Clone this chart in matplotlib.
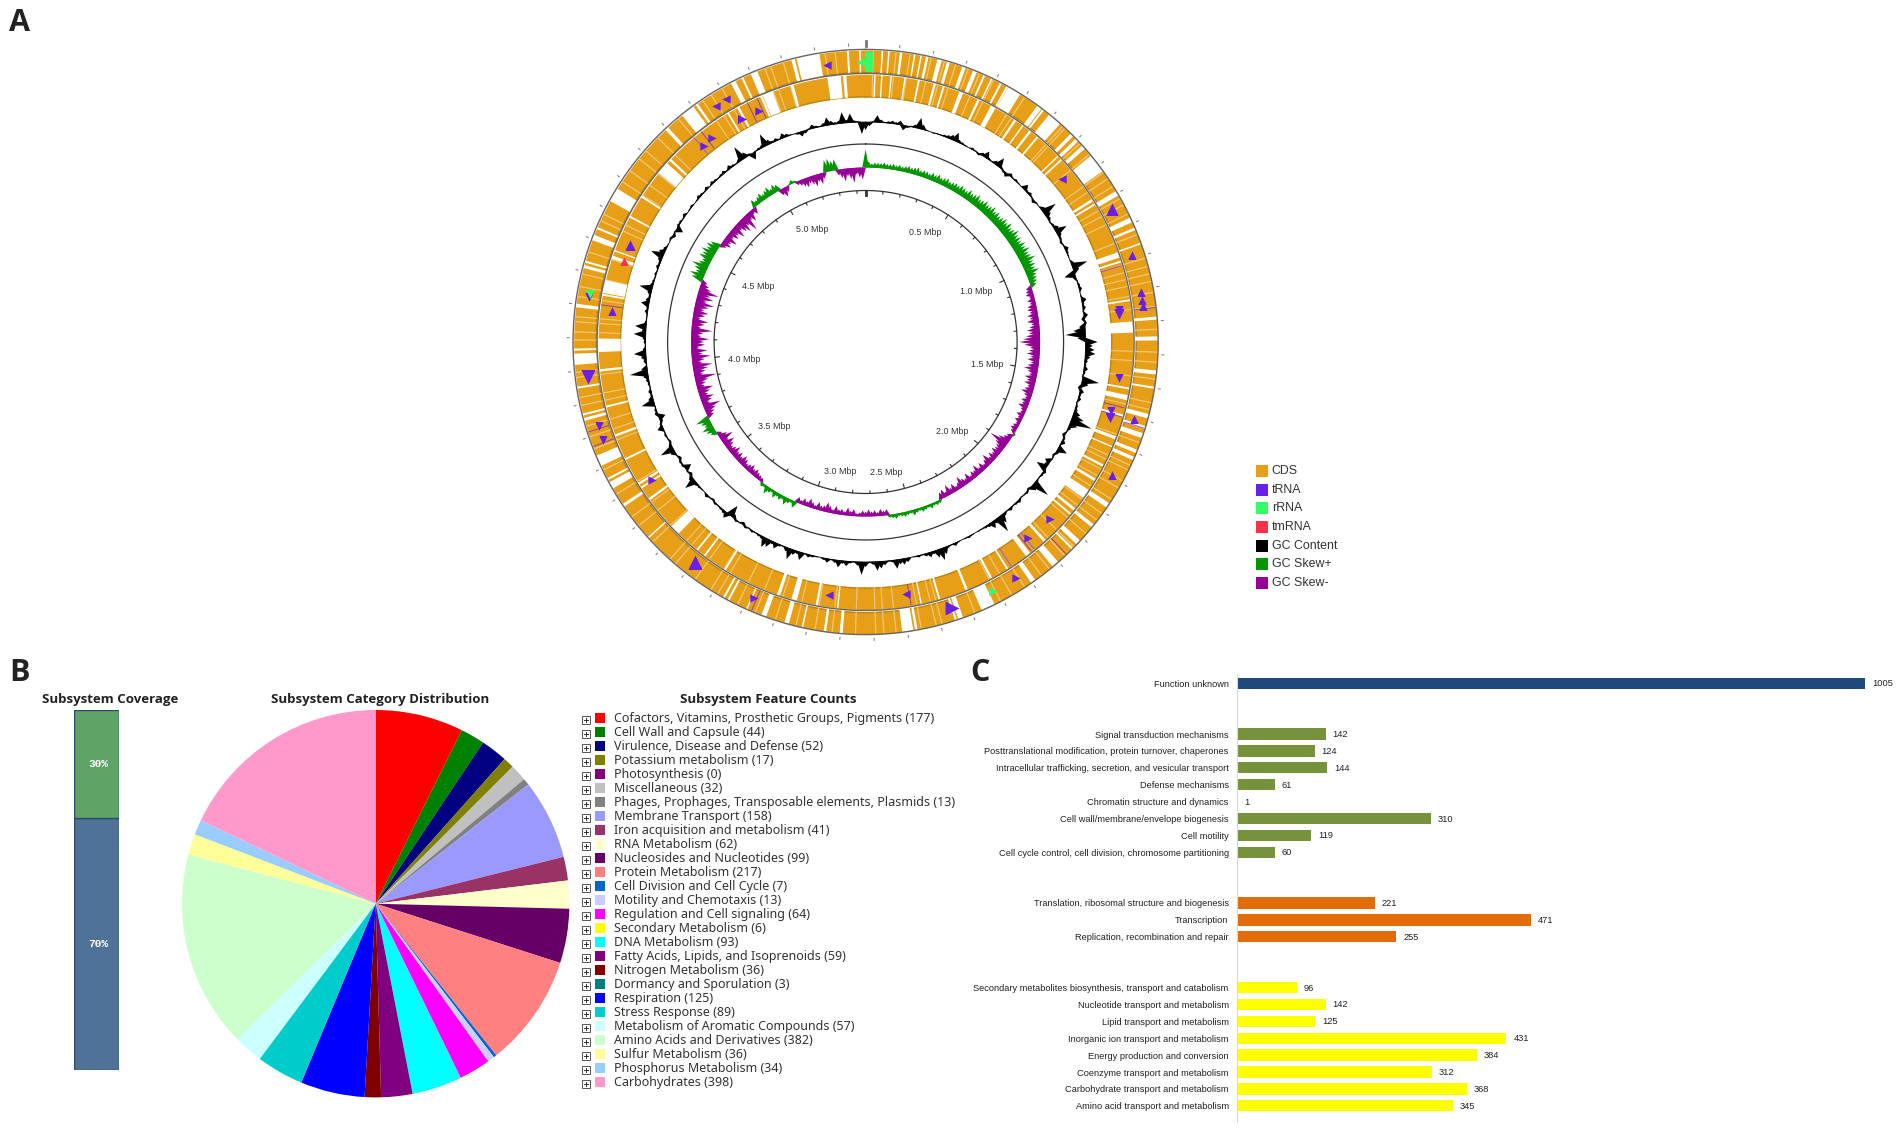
import matplotlib
matplotlib.use("Agg")
import matplotlib.pyplot as plt
import numpy as np
from matplotlib.patches import Rectangle

W, H = 1902, 1130

# --- panel A: genome map (degrees clockwise from top)
GENOME_MBP = 5.45
MAJOR_LABELS = ["0.5 Mbp", "1.0 Mbp", "1.5 Mbp", "2.0 Mbp", "2.5 Mbp",
                "3.0 Mbp", "3.5 Mbp", "4.0 Mbp", "4.5 Mbp", "5.0 Mbp"]
LABEL_ANGLE = [28.4, 65.5, 100.7, 135.8, 171, 191, 227, 262, 297.4, 334.6]
LABEL_RADIUS = [125, 122, 123.5, 125, 132, 132, 124.5, 122.5, 121, 125]

OUTER_GAP_POS = [3.3, 4.6, 7.0, 9.7, 11, 12.2, 14.7, 16.5, 19.7, 22, 24, 25.6, 27.6, 29, 30.6,
                 36.5, 37.4, 40.3, 44.9, 46.3, 48.2, 52.3, 59.4, 65.3, 67.2, 70.3, 85.3, 89.3,
                 96, 99, 104.7, 107, 108.7, 112, 113.5, 124, 129, 133.3, 135, 139.5, 145, 155.2,
                 161, 162, 170, 171.7, 184.8, 188, 192.5, 195.7, 200.4, 204, 208, 209,
                 228, 236, 240.6, 242, 246, 254.6, 255.6, 261, 266.6, 268.5, 277.2, 285, 286,
                 291, 293, 300.3, 317, 322.4, 324.6, 333, 335, 337.5, 345.6, 346.8, 349,
                 356.5, 358.9]
OUTER_GAP_WIDTH = [0.3, 0.3, 0.5, 0.3, 0.3, 0.5, 0.9, 0.6, 0.7, 0.8, 0.4, 0.3, 0.4, 0.4, 2.7,
                   1.0, 0.4, 2.8, 0.7, 0.7, 0.8, 3.8, 1.0, 1.0, 0.5, 0.3, 0.6, 0.8,
                   0.8, 0.4, 0.9, 0.6, 1.0, 0.7, 0.7, 1.0, 0.7, 1.0, 0.4, 1.4, 1.0, 2.8,
                   1.0, 0.4, 0.5, 2.2, 0.6, 0.5, 0.3, 0.9, 1.0, 0.3, 0.4, 0.4,
                   0.3, 0.6, 1.4, 0.4, 2.2, 0.6, 0.4, 0.4, 2.2, 0.4, 0.7, 0.6, 0.4,
                   1.1, 0.4, 2.8, 0.7, 2.8, 0.5, 1.0, 0.4, 1.4, 0.7, 1.0, 3.8,
                   0.4, 0.3]
INNER_GAP_POS = [2, 3.5, 5.5, 8.5, 11.5, 15, 17, 21, 25, 28.5, 34, 36, 38, 40, 46, 47, 58, 59,
                 71, 72.5, 81, 86.8, 100, 102, 106, 111, 113, 117.5, 121, 124.6, 128.7, 130,
                 138, 142.6, 148, 152, 157.8, 164, 168, 186, 190.5, 195.5, 199, 211.7, 217, 219,
                 225.4, 234, 237, 238, 244, 249.5, 256, 263.9, 269.3, 280.2, 282, 288.5, 290,
                 298, 303, 310.6, 313, 329, 331.5, 337, 338.5, 344, 353.2, 355.5]
INNER_GAP_WIDTH = [0.3, 0.3, 0.3, 0.3, 0.4, 0.5, 0.4, 0.8, 0.5, 1.1, 0.5, 0.3, 0.5, 0.4, 0.3, 0.3, 0.5, 0.4,
                   1.2, 0.4, 0.4, 2.4, 0.4, 1.1, 0.5, 0.7, 0.3, 0.5, 0.6, 2.1, 0.6, 0.4,
                   0.6, 1.1, 0.4, 0.5, 0.5, 0.4, 0.3, 0.3, 0.5, 1.2, 0.7, 0.4, 0.4, 0.4,
                   2.2, 0.5, 0.4, 0.5, 0.4, 0.5, 0.4, 0.5, 2.9, 0.4, 2.8, 0.7, 0.3,
                   0.4, 0.4, 2.8, 0.5, 0.4, 0.5, 0.5, 2.3, 0.6, 2.9, 0.7]
PALE_POS = [6, 13, 18, 23, 26, 33, 43, 50, 56, 62, 64, 75, 78, 83, 92, 94, 102, 116, 120, 126, 131,
            137, 141, 147, 150, 158, 166, 174, 178, 182, 190, 198, 206, 212, 222, 231, 251, 259,
            264, 272, 275, 281, 288, 296, 306, 311, 326, 328, 341, 352,
            1.5, 8.8, 15.7, 20.6, 31.8, 42.4, 47.2, 54.5, 57.8, 60.6, 68.4, 73.3, 76.5, 80.2,
            87.5, 97.3, 103.4, 110.2, 115, 118.4, 122.6, 127.6, 134.5, 143, 152.5, 164.8, 169,
            176.4, 186.6, 193.8, 202.2, 210.4, 215.7, 220.6, 226.8, 233.2, 238.6, 244, 248.5,
            253.2, 257.4, 263, 270.4, 274, 279, 283.5, 294.6, 303.4, 309, 314.5, 320, 330.5,
            339.8, 343.6, 354]

MARKER_ANGLE = [352, 330.2, 327.6, 61.6, 72, 79.7, 81.3, 82.6, 106, 118.4, 147.4, 162, 203.6,
                217.8, 249.6, 252.5, 262.9, 279.3, 335.2, 331, 323, 320.5, 292.3, 276.9, 50.3,
                82.7, 83.8, 98, 105.7, 107.3, 133.7, 140.3, 170.9, 188.3, 237.2]
MARKER_RADIUS = [280, 280, 280, 280, 280, 280, 280, 280, 279, 280, 280, 280, 279.5,
                 279, 280, 280, 280, 280, 254.6, 255, 255, 254.6, 255, 255, 255,
                 255, 255, 255.5, 255.4, 255.8, 255.5, 255, 255, 255.6, 254]
MARKER_SHAPE = ["<", "<", "<", "^", "^", "^", "^", "^", "^", "^", ">", ">", ">",
                "^", "v", "v", "v", "v", ">", ">", ">", ">", "^", "^", "<",
                "v", "v", "v", "v", "v", ">", ">", "<", "<", ">"]
MARKER_SIZE = [36, 36, 36, 80, 36, 36, 36, 36, 36, 36, 36, 100, 36,
               100, 36, 36, 100, 36, 36, 44, 36, 36, 55, 36, 36,
               36, 55, 36, 36, 44, 36, 36, 36, 36, 36]
RRNA_ANGLE = [359.4, 153, 279.9]
RRNA_SHAPE = ["<", ">", "v"]
RRNA_SIZE = [100, 40, 40]
TMRNA_ANGLE = [288.5]
TRNA_LINE_ANGLE = [73.4, 83.2, 104.3, 106.3, 107.2, 136.6, 140.9, 141.6, 147, 170.2, 203, 252, 249,
                   278, 320, 322, 333.7, 336]
TRNA_LINE_TRACK = [1, 0, 1, 1, 0, 0, 1, 1, 1, 1, 0, 0, 0, 1, 1, 1, 1, 1]

# GC content offset from the ring baseline, one value per degree
GC_CONTENT = [
    -8, -4, 1, 7, 3, 1, 2, 3, 2, 4,
    -5, -2, 1, 3, 11, 5, 1, 0, -1, 1,
    1, 2, 3, 5, 9, 3, 2, 1, 0, 2,
    1, -2, 3, 7, 2, 1, 4, 10, 2, -2,
    -4, 3, 1, 2, 1, 0, 6, 2, 3, 1,
    -3, 1, 0, 4, 15, 6, 3, -1, 2, 5,
    12, 4, 2, -2, 1, 4, 2, 1, 0, 3,
    16, 6, -11, -3, 1, 2, 3, 0, 1, 5,
    2, 3, -1, 4, -3, 2, -6, -12, -20, -8,
    12, 7, 9, 10, 5, 3, 2, 4, 2, -1,
    17, 7, -3, 4, 2, 3, -1, 2, 3, 7,
    12, 22, 8, 3, 1, -3, 2, 4, 1, 10,
    3, -2, 1, -6, -4, -11, 3, 2, 1, 2,
    18, 6, -2, 2, 1, -1, 3, 2, 1, 3,
    1, 3, 9, 17, 4, 7, 3, 2, 1, 1,
    0, 1, 2, 1, 0, 1, 3, 1, 2, 7,
    12, 8, 3, 5, 3, 1, 2, 1, 0, 4,
    6, 5, 9, 2, 1, 4, 7, 9, 3, 1,
    5, 13, 4, 1, 2, 5, 3, 7, 3, 1,
    4, 2, 0, 1, 2, 3, 1, 8, 3, 5,
    11, 4, 1, 2, 6, 3, 8, 10, 3, 2,
    1, 2, -1, 2, -3, 1, 2, -4, -12, 6,
    3, 2, 1, 2, -2, 1, 3, 0, 1, 2,
    3, 12, 4, -3, 1, -7, 2, 2, -3, 1,
    5, 14, 3, -2, 1, 2, 1, 6, 2, -3,
    -7, 3, 2, 1, 13, 5, 2, 3, 1, 2,
    3, 5, 18, 6, 1, 3, 5, 12, 3, 1,
    2, 3, 12, 4, 11, 2, 1, 1, 3, 2,
    8, 4, 2, 4, 13, 3, 2, 1, 2, 1,
    3, 2, 4, 13, 6, 3, 1, 0, 2, -3,
    1, -7, 2, 2, 1, 3, 0, 1, 2, 0,
    1, 3, 2, 1, 3, 0, 3, 2, 1, 2,
    3, 1, 4, 2, 1, 3, 15, 6, 2, -7,
    1, 2, 3, 13, 5, 2, 3, 1, 5, 3,
    1, 0, -2, -5, -3, 1, 4, 2, 1, 3,
    8, 4, 2, 3, 11, 3, 9, 2, 1, -12,
]
# GC skew offset from its baseline, one value per degree (plus is outward)
GC_SKEW = [
    18, 6, 4, 5, 5, 5, 6, 5, 5, 6,
    5, 6, 5, 6, 7, 6, 7, 8, 6, 7,
    7, 6, 8, 7, 9, 7, 8, 9, 7, 8,
    9, 8, 10, 9, 8, 11, 9, 10, 12, 9,
    10, 12, 10, 11, 13, 10, 12, 10, 11, 13,
    11, 14, 11, 12, 15, 12, 13, 11, 14, 12,
    15, 12, 13, 16, 12, 13, 11, 14, 10, 9,
    8, 6, -6, -7, -8, -5, -8, -6, -9, -10,
    -8, -11, -9, -12, -8, -10, -13, -11, -14, -17,
    -21, -16, -10, -11, -13, -9, -12, -8, -11, -14,
    -10, -8, -12, -9, -11, -7, -9, -12, -8, -6,
    -9, -7, -10, -6, -5, -8, -5, -7, -4, -6,
    -7, -5, 2, -6, -8, -12, -20, -12, -9, -8,
    -10, -7, -9, -6, -12, -8, -5, -9, -6, -11,
    -7, -8, -5, -10, -6, -8, -12, -7, -5, -9,
    -6, -11, -5, -9, -7, 3, 4, 3, 5, 3,
    4, 5, 3, 4, 6, 3, 4, 5, 4, 3,
    5, 4, 3, -6, -5, -7, -4, -6, -5, -7,
    -5, -6, -4, -3, -7, -5, -8, -4, -6, -5,
    -8, -4, -7, -10, -6, -5, -8, -4, -6, -9,
    -5, -7, -4, -6, 7, 3, 5, 8, 4, 6,
    4, 7, 3, 5, 8, 3, 4, -4, -5, -6,
    -8, -6, -9, -7, -5, -8, -10, -6, -9, -7,
    -11, -8, -6, -9, -12, -7, -14, -9, -5, 6,
    9, 12, 8, 10, 14, -7, -9, -12, -18, -8,
    -11, -14, -9, -12, -16, -8, -10, -13, -22, -9,
    -12, -15, -20, -10, -13, -19, -11, -16, -8, -14,
    -13, -18, -10, -12, -21, -9, -13, -16, -8, -12,
    -15, -10, -14, -19, -11, -17, -13, -21, -12, -9,
    -6, 12, 15, 10, 13, 17, 11, 9, 14, 12,
    15, 11, 13, 10, -6, -10, -8, -13, -7, -11,
    -9, -14, -8, -12, -15, -10, -18, -8, -11, -5,
    -7, 8, 5, 7, 9, 6, 8, 10, 6, 9,
    7, -7, -10, -6, 1, 4, 2, -4, -6, -8,
    -10, -7, -9, -12, -8, -11, -6, 12, 13, 10,
    11, -6, -9, -13, -8, -11, -15, -7, -10, -12,
]

LEGEND_A = ["CDS", "tRNA", "rRNA", "tmRNA", "GC Content", "GC Skew+", "GC Skew-"]
LEGEND_A_COLORS = ["#e69f17", "#6a1fe6", "#35fb67", "#fb3049", "#000000", "#009600", "#960096"]

# --- panel B
COVERAGE = [70, 30]
COVERAGE_LABELS = ["70%", "30%"]
COVERAGE_COLORS = ["#4f7299", "#5fa366"]
SUBSYSTEMS = [
    "Cofactors, Vitamins, Prosthetic Groups, Pigments", "Cell Wall and Capsule",
    "Virulence, Disease and Defense", "Potassium metabolism", "Photosynthesis", "Miscellaneous",
    "Phages, Prophages, Transposable elements, Plasmids", "Membrane Transport",
    "Iron acquisition and metabolism", "RNA Metabolism", "Nucleosides and Nucleotides",
    "Protein Metabolism", "Cell Division and Cell Cycle", "Motility and Chemotaxis",
    "Regulation and Cell signaling", "Secondary Metabolism", "DNA Metabolism",
    "Fatty Acids, Lipids, and Isoprenoids", "Nitrogen Metabolism", "Dormancy and Sporulation",
    "Respiration", "Stress Response", "Metabolism of Aromatic Compounds",
    "Amino Acids and Derivatives", "Sulfur Metabolism", "Phosphorus Metabolism", "Carbohydrates",
]
SUBSYSTEM_COUNTS = [177, 44, 52, 17, 0, 32, 13, 158, 41, 62, 99, 217, 7, 13, 64, 6, 93, 59, 36, 3,
                    125, 89, 57, 382, 36, 34, 398]
# wedge sizes as measured on the drawn pie, in degrees
SLICE_DEGREES = [26.4, 7.3, 8.0, 3.3, 0, 5.0, 2.0, 24.0, 7.1, 8.4, 16.3, 33.7, 0.9, 2.1, 9.5, 0, 15.0,
                 9.4, 4.9, 0, 19.3, 14.2, 8.8, 59.1, 6.3, 4.5, 64.5]
SUBSYSTEM_COLORS = ["#ff0000", "#008000", "#000080", "#808000", "#800080", "#c0c0c0", "#808080",
                    "#9999ff", "#993366", "#ffffcc", "#660066", "#ff8080", "#0066cc", "#ccccff",
                    "#ff00ff", "#ffff00", "#00ffff", "#800080", "#800000", "#008080", "#0000ff",
                    "#00cccc", "#ccffff", "#ccffcc", "#ffff99", "#99ccff", "#ff99cc"]

# --- panel C
COG_LABELS = [
    "Function unknown",
    "Signal transduction mechanisms", "Posttranslational modification, protein turnover, chaperones",
    "Intracellular trafficking, secretion, and vesicular transport", "Defense mechanisms",
    "Chromatin structure and dynamics", "Cell wall/membrane/envelope biogenesis", "Cell motility",
    "Cell cycle control, cell division, chromosome partitioning",
    "Translation, ribosomal structure and biogenesis", "Transcription",
    "Replication, recombination and repair",
    "Secondary metabolites biosynthesis, transport and catabolism",
    "Nucleotide transport and metabolism", "Lipid transport and metabolism",
    "Inorganic ion transport and metabolism", "Energy production and conversion",
    "Coenzyme transport and metabolism", "Carbohydrate transport and metabolism",
    "Amino acid transport and metabolism",
]
COG_VALUES = [1005, 142, 124, 144, 61, 1, 310, 119, 60, 221, 471, 255, 96, 142, 125, 431, 384, 312,
              368, 345]
COG_ROWS = [0, 3, 4, 5, 6, 7, 8, 9, 10, 13, 14, 15, 18, 19, 20, 21, 22, 23, 24, 25]
COG_GROUP_SIZES = [1, 8, 3, 8]
COG_GROUP_COLORS = ["#1f497d", "#76923c", "#e36c0a", "#ffff00"]


def axes_px(fig, left, top, right, bottom, **kwargs):
    return fig.add_axes([left / W, 1 - bottom / H, (right - left) / W, (bottom - top) / H], **kwargs)


def draw_track(ax, r0, r1, gap_pos, gap_width, pale_pos):
    theta = np.radians(np.arange(0, 360.5, 0.5))
    ax.fill_between(theta, r0, r1, color="#e69f17", lw=0)
    ax.fill_between(theta, r0, r0 + 1.3, color="#b98418", lw=0)
    ax.bar(np.radians(pale_pos), r1 - r0, width=np.radians(0.25), bottom=r0, color="#f3c777", lw=0)
    ax.bar(np.radians(gap_pos), r1 - r0 + 0.2, width=np.radians(gap_width), bottom=r0 - 0.1,
           color="white", lw=0)


def draw_spikes(ax, values, base, half_width, pos_color, neg_color):
    # every sample is a small triangle standing on the baseline
    for deg, value in enumerate(values):
        if value == 0:
            continue
        t = np.radians([deg - half_width, deg, deg + half_width])
        ax.fill(t, [base, base + value, base], color=pos_color if value > 0 else neg_color, lw=0)


def draw_map(fig):
    cx, cy, half = 865.6, 342, 310
    ax = axes_px(fig, cx - half, cy - half, cx + half, cy + half, projection="polar")
    ax.set_theta_zero_location("N")
    ax.set_theta_direction(-1)
    ax.set_ylim(0, half)
    ax.axis("off")
    ax.patch.set_alpha(0)

    draw_track(ax, 269.5, 292, OUTER_GAP_POS, OUTER_GAP_WIDTH, PALE_POS)
    draw_track(ax, 245, 267.5, INNER_GAP_POS, INNER_GAP_WIDTH, PALE_POS[::-1])

    full = np.radians(np.arange(0, 360.5, 0.5))
    ax.plot(full, np.full_like(full, 292.6), color="#666666", lw=1.0)
    ax.plot(full, np.full_like(full, 268.5), color="#666666", lw=1.0)
    ax.plot(full, np.full_like(full, 198), color="#333333", lw=0.9)
    ax.plot(full, np.full_like(full, 151.5), color="#333333", lw=0.9)

    ax.plot(full, np.full_like(full, 220), color="black", lw=0.5)
    draw_spikes(ax, GC_CONTENT, 220, 1.1, "black", "black")
    draw_spikes(ax, GC_SKEW, 174.5, 1.1, "#009600", "#960096")

    # scale ticks every 0.1 Mbp on the inner ring and outside the outer ring
    for i, mbp in enumerate(np.arange(0, GENOME_MBP, 0.1)):
        t = np.radians(mbp / GENOME_MBP * 360)
        major = i % 5 == 0
        ax.plot([t, t], [147 if major else 149, 151.5], color="#333333", lw=0.8 if i else 2)
        ax.plot([t, t], [296.5, 298.5 if i else 301], color="#777777", lw=0.7 if i else 2)
    for label, ang, rad in zip(MAJOR_LABELS, LABEL_ANGLE, LABEL_RADIUS):
        ax.text(np.radians(ang), rad, label, ha="center", va="center", fontsize=6.4,
                color="#333333", family="Liberation Sans")

    for ang, track in zip(TRNA_LINE_ANGLE, TRNA_LINE_TRACK):
        r0, r1 = (269.5, 292) if track == 0 else (245, 267.5)
        ax.plot([np.radians(ang)] * 2, [r0 + 1, r1 - 1], color="#6a1fe6", lw=0.7, alpha=0.7)
    for ang, rad, shape, size in zip(MARKER_ANGLE, MARKER_RADIUS, MARKER_SHAPE, MARKER_SIZE):
        ax.scatter(np.radians(ang), rad, marker=shape, s=size, color="#6a1fe6", lw=0, zorder=5)
    for ang, shape, size in zip(RRNA_ANGLE, RRNA_SHAPE, RRNA_SIZE):
        ax.scatter(np.radians(ang), 280, marker=shape, s=size, color="#35fb67", lw=0, zorder=6)
    ax.bar(np.radians(0.7), 20, width=np.radians(1.6), bottom=270, color="#35fb67", lw=0, zorder=6)
    ax.scatter(np.radians(TMRNA_ANGLE), [255], marker="^", s=36, color="#fb3049", lw=0, zorder=6)


def draw_coverage(fig):
    ax = axes_px(fig, 74, 710, 119, 1070)
    bottom = 0
    for value, label, color in zip(COVERAGE, COVERAGE_LABELS, COVERAGE_COLORS):
        ax.bar(0, value, bottom=bottom, width=1, color=color, edgecolor="#2d4a66", lw=1.0)
        ax.text(0.04, bottom + value / 2, label, ha="center", va="center", color="white",
                fontsize=8, fontweight="bold", family="Liberation Mono")
        bottom += value
    ax.set_xlim(-0.5, 0.5)
    ax.set_ylim(0, 100)
    ax.axis("off")


def draw_pie(fig):
    cx, cy, rad = 375.7, 903.7, 193.7
    ax = axes_px(fig, cx - rad, cy - rad, cx + rad, cy + rad)
    ax.pie(SLICE_DEGREES, colors=SUBSYSTEM_COLORS, startangle=90, counterclock=False, radius=1,
           wedgeprops={"linewidth": 0})
    ax.set_xlim(-1, 1)
    ax.set_ylim(-1, 1)


def draw_bars(fig):
    top, bottom = 675, 1121.6
    left = 1237
    px_per_unit = 0.625
    first_row, row_px = 683.3, 16.9
    ax = axes_px(fig, left, top, left + 1060 * px_per_unit, bottom)
    colors = []
    for size, color in zip(COG_GROUP_SIZES, COG_GROUP_COLORS):
        colors += [color] * size
    ax.barh(COG_ROWS, COG_VALUES, height=0.67, color=colors, lw=0)
    ax.set_xlim(0, 1060)
    ax.set_ylim((bottom - first_row) / row_px, (top - first_row) / row_px)
    ax.set_yticks(COG_ROWS)
    ax.set_yticklabels(COG_LABELS, fontsize=6.7, color="#222222", family="Liberation Sans")
    ax.tick_params(axis="y", length=0, pad=6)
    ax.set_xticks([])
    for name in ["top", "right", "bottom"]:
        ax.spines[name].set_visible(False)
    ax.spines["left"].set_color("#d5d9de")
    for row, value in zip(COG_ROWS, COG_VALUES):
        ax.text(value + 11, row + 0.03, str(value), va="center", fontsize=6.7, color="#222222",
                family="Liberation Sans")
    ax.patch.set_alpha(0)


def draw_overlay(fig):
    ax = axes_px(fig, 0, 0, W, H)
    ax.set_xlim(0, W)
    ax.set_ylim(H, 0)
    ax.axis("off")
    ax.patch.set_alpha(0)

    for letter, x, y in [("A", 9, 23), ("B", 9, 673), ("C", 970, 673)]:
        ax.text(x, y, letter, fontsize=22, fontweight="bold", family="Open Sans", va="center",
                color="#222222")

    # panel A legend
    for i, (label, color) in enumerate(zip(LEGEND_A, LEGEND_A_COLORS)):
        y = 471 + 18.65 * i
        ax.add_patch(Rectangle((1256, y - 6), 12, 12, color=color, lw=0))
        ax.text(1271.7, y, label, fontsize=8.9, va="center", family="Liberation Sans",
                color="#333333")

    # panel B titles and list
    for title, x in [("Subsystem Coverage", 110), ("Subsystem Category Distribution", 380),
                     ("Subsystem Feature Counts", 768)]:
        ax.text(x, 700, title, ha="center", va="center", fontsize=9.5, fontweight="bold",
                family="Open Sans", color="#222222")
    for i, (name, count, color) in enumerate(zip(SUBSYSTEMS, SUBSYSTEM_COUNTS, SUBSYSTEM_COLORS)):
        y = 718.3 + 14.0 * i
        ax.add_patch(Rectangle((595, y - 5), 10, 10, color=color, lw=0))
        ax.add_patch(Rectangle((582, y - 2.5), 8, 8, fill=False, ec="#555555", lw=0.7))
        ax.plot([584, 588], [y + 1.5, y + 1.5], color="#333333", lw=0.7)
        ax.plot([586, 586], [y - 0.5, y + 3.5], color="#333333", lw=0.7)
        ax.text(613.6, y, f"{name} ({count})", fontsize=9.0, va="center", family="Noto Sans",
                color="#333333")


def main():
    fig = plt.figure(figsize=(W / 100, H / 100), dpi=100, facecolor="white")
    draw_map(fig)
    draw_coverage(fig)
    draw_pie(fig)
    draw_bars(fig)
    draw_overlay(fig)
    fig.savefig("out.png", dpi=100)


if __name__ == "__main__":
    main()
